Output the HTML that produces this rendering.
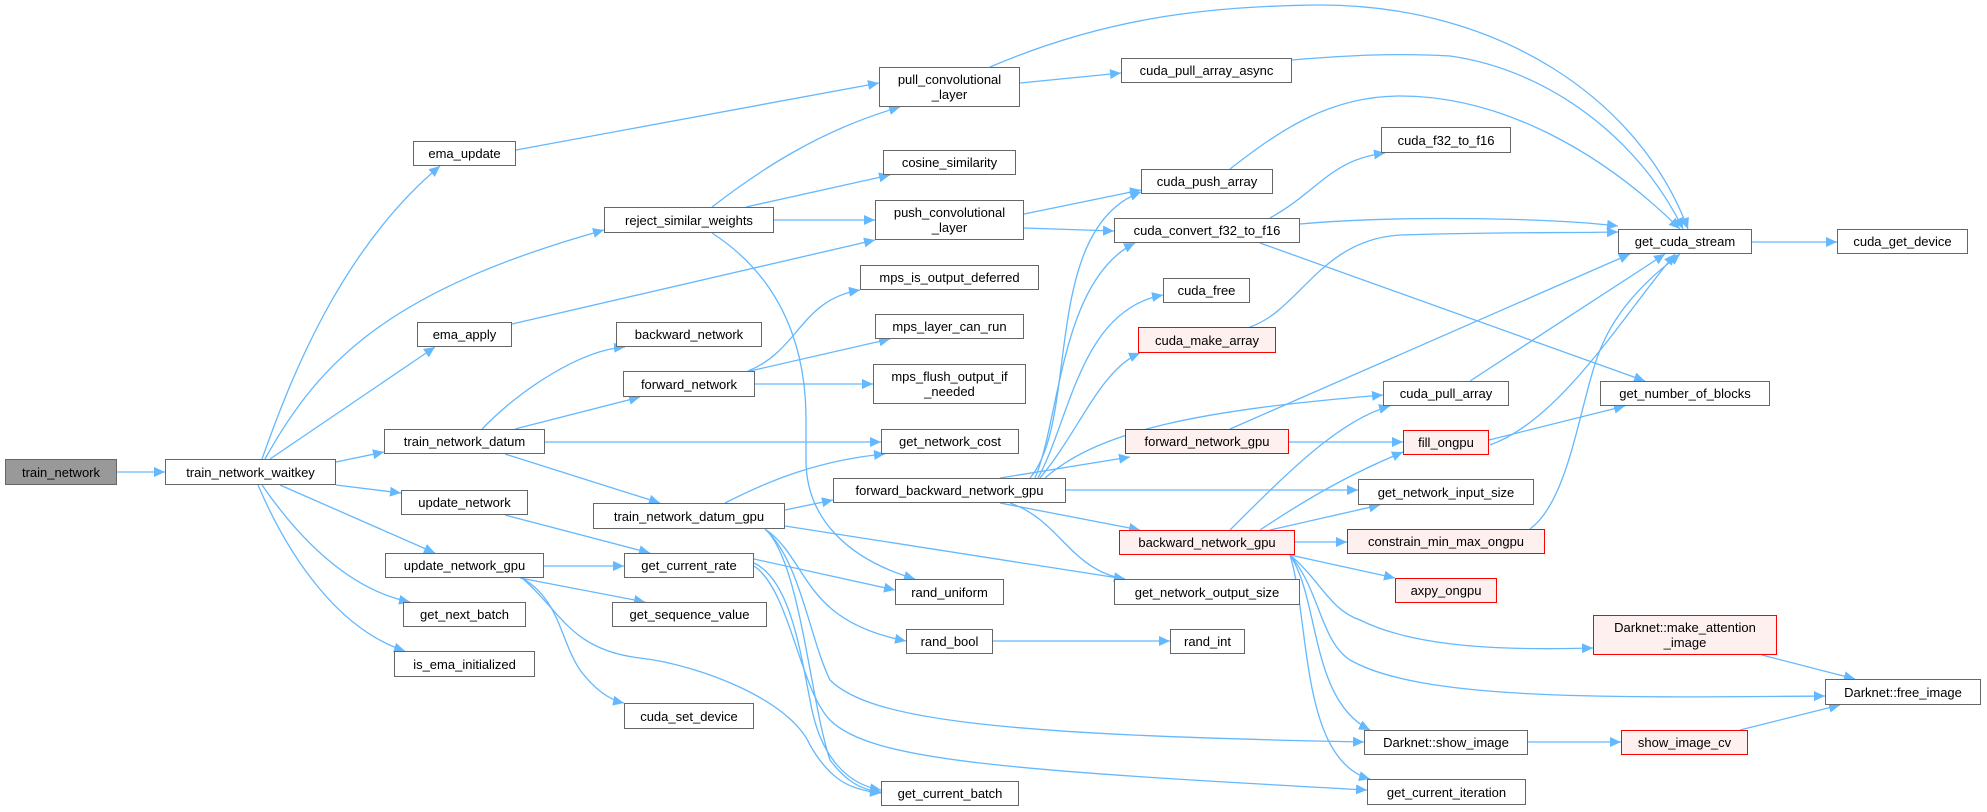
<!DOCTYPE html>
<html><head><meta charset="utf-8"><style>
html,body{margin:0;padding:0;background:#fff;}
#c{position:relative;width:1987px;height:812px;overflow:hidden;font-family:"Liberation Sans","DejaVu Sans",sans-serif;}
svg{position:absolute;left:0;top:0;}
.n{position:absolute;box-sizing:border-box;border:1.5px solid #666;background:#fff;color:#000;font-size:13px;line-height:15px;display:flex;align-items:center;justify-content:center;text-align:center;white-space:nowrap;}
.r{border-color:#f00;background:#fff0f0;}
.g{background:#999;}
</style></head><body><div id="c">
<svg width="1987" height="812" viewBox="0 0 1987 812">
<defs><marker id="a" markerUnits="userSpaceOnUse" markerWidth="12" markerHeight="10" refX="11" refY="5" orient="auto"><path d="M0,0 L11,5 L0,10 z" fill="#63b8ff"/></marker></defs>
<g fill="none" stroke="#63b8ff" stroke-width="1.3" marker-end="url(#a)">
<path d="M117,472 L165,472"/>
<path d="M262,459 C290,380 340,250 440,166"/>
<path d="M265,459 C320,360 390,290 604,230"/>
<path d="M270,459 L435,347"/>
<path d="M336,462 L384,452"/>
<path d="M336,485 L401,493"/>
<path d="M280,485 L435,553"/>
<path d="M262,485 C300,540 350,590 410,602"/>
<path d="M258,485 C290,560 340,630 405,651"/>
<path d="M516,150 L879,83"/>
<path d="M712,207 C760,170 820,130 900,107"/>
<path d="M746,207 L890,175"/>
<path d="M774,220 L875,220"/>
<path d="M712,233 C800,290 806,380 806,420 L806,460 C806,520 850,560 915,579"/>
<path d="M512,324 L875,240"/>
<path d="M482,429 C520,390 580,350 625,347"/>
<path d="M515,429 L640,397"/>
<path d="M545,442 L881,442"/>
<path d="M505,454 L660,503"/>
<path d="M748,371 C800,350 800,300 860,290"/>
<path d="M750,371 L890,339"/>
<path d="M755,384 L873,384"/>
<path d="M505,515 L650,553"/>
<path d="M544,566 L624,566"/>
<path d="M520,578 L645,602"/>
<path d="M522,578 C560,600 560,640 580,670 C595,690 610,700 624,703"/>
<path d="M522,578 C560,610 570,650 640,658 C700,665 790,700 810,745 C830,780 850,790 881,793"/>
<path d="M754,559 L895,590"/>
<path d="M754,563 C790,580 800,650 810,700 C820,760 850,785 881,790"/>
<path d="M765,529 C800,560 810,640 830,680 C870,720 1000,735 1364,742"/>
<path d="M754,566 C790,590 800,690 830,720 C870,760 1000,770 1367,790"/>
<path d="M725,503 C770,480 820,460 885,454"/>
<path d="M785,510 L833,500"/>
<path d="M785,526 L1125,579"/>
<path d="M765,529 C810,560 800,620 906,641"/>
<path d="M765,529 C800,560 810,700 830,760 C845,780 860,790 881,792"/>
<path d="M993,641 L1170,641"/>
<path d="M1000,478 L1130,457"/>
<path d="M1030,478 C1080,420 1040,230 1141,192"/>
<path d="M1035,478 C1060,420 1060,280 1135,243"/>
<path d="M1038,478 C1070,420 1080,310 1163,295"/>
<path d="M1040,478 C1080,430 1100,370 1140,353"/>
<path d="M1045,478 C1100,430 1200,410 1383,395"/>
<path d="M1066,490 L1358,490"/>
<path d="M1000,503 L1140,530"/>
<path d="M1010,503 C1060,520 1070,570 1125,579"/>
<path d="M1230,429 L1630,254"/>
<path d="M1289,442 L1403,442"/>
<path d="M1230,530 C1290,470 1340,420 1390,406"/>
<path d="M1260,530 C1320,490 1360,470 1403,452"/>
<path d="M1270,530 L1380,505"/>
<path d="M1295,542 L1347,542"/>
<path d="M1290,555 L1395,578"/>
<path d="M1290,555 C1320,580 1330,610 1360,620 C1420,650 1520,650 1593,648"/>
<path d="M1290,555 C1320,590 1320,640 1350,660 C1420,700 1600,698 1825,696"/>
<path d="M1290,555 C1320,600 1310,700 1370,730"/>
<path d="M1290,555 C1310,620 1300,760 1370,779"/>
<path d="M1528,742 L1621,742"/>
<path d="M1740,730 L1840,705"/>
<path d="M1762,655 L1855,679"/>
<path d="M1530,529 C1570,500 1580,400 1600,350 C1620,300 1660,270 1680,254"/>
<path d="M1490,445 C1560,420 1620,320 1675,254"/>
<path d="M1489,440 L1625,406"/>
<path d="M1470,381 L1665,254"/>
<path d="M1250,327 C1300,310 1320,240 1400,235 C1500,232 1560,233 1618,232"/>
<path d="M1300,224 C1400,215 1550,218 1618,226"/>
<path d="M1270,218 C1320,190 1330,160 1385,153"/>
<path d="M1260,243 L1645,381"/>
<path d="M1230,169 C1280,130 1330,96 1400,96 C1500,96 1600,150 1680,229"/>
<path d="M1292,60 C1350,55 1400,53 1450,56 C1550,70 1640,140 1683,229"/>
<path d="M990,67 C1100,20 1200,6 1320,5 C1500,5 1640,100 1688,229"/>
<path d="M1020,83 L1121,73"/>
<path d="M1024,214 L1141,190"/>
<path d="M1024,228 L1114,231"/>
<path d="M1752,242 L1837,242"/>
</g></svg>
<div class="n g" style="left:5px;top:459px;width:112px;height:26px">train_network</div>
<div class="n" style="left:165px;top:459px;width:171px;height:26px">train_network_waitkey</div>
<div class="n" style="left:413px;top:141px;width:103px;height:25px">ema_update</div>
<div class="n" style="left:604px;top:207px;width:170px;height:26px">reject_similar_weights</div>
<div class="n" style="left:417px;top:322px;width:95px;height:25px">ema_apply</div>
<div class="n" style="left:384px;top:429px;width:161px;height:25px">train_network_datum</div>
<div class="n" style="left:616px;top:322px;width:146px;height:25px">backward_network</div>
<div class="n" style="left:623px;top:371px;width:132px;height:26px">forward_network</div>
<div class="n" style="left:401px;top:490px;width:127px;height:25px">update_network</div>
<div class="n" style="left:385px;top:553px;width:159px;height:25px">update_network_gpu</div>
<div class="n" style="left:403px;top:602px;width:123px;height:25px">get_next_batch</div>
<div class="n" style="left:394px;top:651px;width:141px;height:26px">is_ema_initialized</div>
<div class="n" style="left:593px;top:503px;width:192px;height:26px">train_network_datum_gpu</div>
<div class="n" style="left:624px;top:553px;width:130px;height:25px">get_current_rate</div>
<div class="n" style="left:612px;top:602px;width:155px;height:25px">get_sequence_value</div>
<div class="n" style="left:624px;top:703px;width:130px;height:26px">cuda_set_device</div>
<div class="n" style="left:879px;top:67px;width:141px;height:40px">pull_convolutional<br>_layer</div>
<div class="n" style="left:883px;top:150px;width:133px;height:25px">cosine_similarity</div>
<div class="n" style="left:875px;top:200px;width:149px;height:40px">push_convolutional<br>_layer</div>
<div class="n" style="left:860px;top:265px;width:179px;height:25px">mps_is_output_deferred</div>
<div class="n" style="left:875px;top:314px;width:149px;height:25px">mps_layer_can_run</div>
<div class="n" style="left:873px;top:364px;width:153px;height:40px">mps_flush_output_if<br>_needed</div>
<div class="n" style="left:881px;top:429px;width:138px;height:25px">get_network_cost</div>
<div class="n" style="left:833px;top:478px;width:233px;height:25px">forward_backward_network_gpu</div>
<div class="n" style="left:895px;top:579px;width:109px;height:26px">rand_uniform</div>
<div class="n" style="left:906px;top:629px;width:87px;height:25px">rand_bool</div>
<div class="n" style="left:1170px;top:629px;width:75px;height:25px">rand_int</div>
<div class="n" style="left:881px;top:781px;width:138px;height:25px">get_current_batch</div>
<div class="n" style="left:1121px;top:58px;width:171px;height:25px">cuda_pull_array_async</div>
<div class="n" style="left:1141px;top:169px;width:132px;height:25px">cuda_push_array</div>
<div class="n" style="left:1114px;top:218px;width:186px;height:25px">cuda_convert_f32_to_f16</div>
<div class="n" style="left:1163px;top:278px;width:87px;height:25px">cuda_free</div>
<div class="n r" style="left:1138px;top:327px;width:138px;height:26px">cuda_make_array</div>
<div class="n r" style="left:1125px;top:429px;width:164px;height:25px">forward_network_gpu</div>
<div class="n r" style="left:1119px;top:530px;width:176px;height:25px">backward_network_gpu</div>
<div class="n" style="left:1114px;top:579px;width:186px;height:26px">get_network_output_size</div>
<div class="n" style="left:1381px;top:127px;width:130px;height:26px">cuda_f32_to_f16</div>
<div class="n" style="left:1618px;top:229px;width:134px;height:25px">get_cuda_stream</div>
<div class="n" style="left:1837px;top:229px;width:131px;height:25px">cuda_get_device</div>
<div class="n" style="left:1383px;top:381px;width:126px;height:25px">cuda_pull_array</div>
<div class="n" style="left:1600px;top:381px;width:170px;height:25px">get_number_of_blocks</div>
<div class="n r" style="left:1403px;top:430px;width:86px;height:25px">fill_ongpu</div>
<div class="n" style="left:1358px;top:479px;width:176px;height:26px">get_network_input_size</div>
<div class="n r" style="left:1347px;top:529px;width:198px;height:25px">constrain_min_max_ongpu</div>
<div class="n r" style="left:1395px;top:578px;width:102px;height:25px">axpy_ongpu</div>
<div class="n r" style="left:1593px;top:615px;width:184px;height:40px">Darknet::make_attention<br>_image</div>
<div class="n" style="left:1825px;top:679px;width:156px;height:26px">Darknet::free_image</div>
<div class="n" style="left:1364px;top:730px;width:164px;height:25px">Darknet::show_image</div>
<div class="n r" style="left:1621px;top:730px;width:127px;height:25px">show_image_cv</div>
<div class="n" style="left:1367px;top:779px;width:159px;height:26px">get_current_iteration</div>
</div></body></html>
